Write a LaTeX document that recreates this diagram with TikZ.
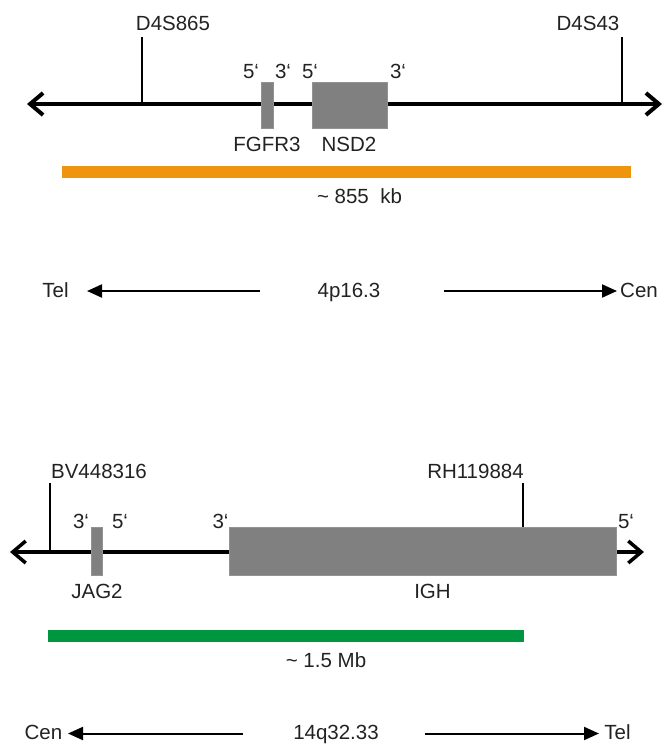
\documentclass[tikz,border=0pt]{standalone}
\usepackage{fontspec}
\setmainfont{Liberation Sans}
\usetikzlibrary{arrows.meta}
\definecolor{txt}{HTML}{222222}
\definecolor{genegray}{HTML}{808080}
\definecolor{orangebar}{HTML}{EE940F}
\definecolor{greenbar}{HTML}{009640}
\begin{document}
\begin{tikzpicture}[x=1pt,y=-1pt,
  lbl/.style={font=\fontsize{20.5}{24}\selectfont, text=txt, inner sep=0pt, anchor=base},
  gene/.style={fill=genegray, draw=genegray!85!white, line width=0.6pt, inner sep=0pt},
  axisline/.style={line width=#1, {Straight Barb[length=13pt,width=22pt]}-{Straight Barb[length=13pt,width=22pt]}},
  marker/.style={line width=#1},
  orient/.style={line width=2pt, -{Triangle[length=15pt,width=13pt]}},
  barbox/.style={inner sep=0pt, draw=none}
]
\useasboundingbox (0,0) rectangle (665,744);

% ---------------- 4p16.3 ----------------
\coordinate (a1L) at (27,104);
\coordinate (a1R) at (662,104);
\draw[axisline=4pt] (a1L) -- (a1R);

\node[lbl] (d4s865) at (173,30) {D4S865};
\coordinate (m1t) at (142,37);
\coordinate (m1b) at (142,104);
\draw[marker=1.5pt] (m1t) -- (m1b);

\node[lbl] (d4s43) at (588,30) {D4S43};
\coordinate (m2t) at (622,37);
\coordinate (m2b) at (622,104);
\draw[marker=1.5pt] (m2t) -- (m2b);

\node[gene, minimum width=12pt, minimum height=46pt] (fgfr3) at (267,105) {};
\node[gene, minimum width=75pt, minimum height=46pt] (nsd2) at (349.5,105) {};

\node[lbl] (p1) at (251,78) {5‘};
\node[lbl] (p2) at (283,78) {3‘};
\node[lbl] (p3) at (310,78) {5‘};
\node[lbl] (p4) at (398,78) {3‘};

\node[lbl] (fgfr3l) at (267,151) {FGFR3};
\node[lbl] (nsd2l) at (349,151) {NSD2};

\node[barbox, fill=orangebar, minimum width=569pt, minimum height=12pt] (obar) at (346.5,172) {};
\node[lbl] (kb) at (359.5,203) {\textasciitilde\ 855\ \ kb};

\node[lbl] (tel1) at (55.5,297) {Tel};
\coordinate (t1s) at (260,291);
\coordinate (t1e) at (87,291);
\draw[orient] (t1s) -- (t1e);
\node[lbl] (band1) at (349,297) {4p16.3};
\coordinate (c1s) at (444,291);
\coordinate (c1e) at (617,291);
\draw[orient] (c1s) -- (c1e);
\node[lbl] (cen1) at (639,297) {Cen};

% ---------------- 14q32.33 ----------------
\coordinate (a2L) at (10,552);
\coordinate (a2R) at (644,552);
\draw[axisline=3.5pt] (a2L) -- (a2R);

\node[lbl] (bv) at (99,478) {BV448316};
\coordinate (m3t) at (50,483);
\coordinate (m3b) at (50,552);
\draw[marker=2.2pt] (m3t) -- (m3b);

\node[gene, minimum width=11pt, minimum height=48pt] (jag2) at (96.5,551) {};
\node[gene, minimum width=387pt, minimum height=48pt] (igh) at (422.5,551) {};

\node[lbl] (rh) at (475.5,478) {RH119884};
\coordinate (m4t) at (523,483);
\draw[marker=2.2pt] (m4t) -- (m4t |- igh.north);

\node[lbl] (q1) at (81,528) {3‘};
\node[lbl] (q2) at (120,528) {5‘};
\node[lbl] (q3) at (220.5,528) {3‘};
\node[lbl] (q4) at (626,528) {5‘};

\node[lbl] (jag2l) at (97,598) {JAG2};
\node[lbl] (ighl) at (432.5,598) {IGH};

\node[barbox, fill=greenbar, minimum width=476pt, minimum height=12pt] (gbar) at (286,635.5) {};
\node[lbl] (mb) at (326,667) {\textasciitilde\ 1.5 Mb};

\node[lbl] (cen2) at (43.5,739.5) {Cen};
\coordinate (c2s) at (243,733.5);
\coordinate (c2e) at (68,733.5);
\draw[orient] (c2s) -- (c2e);
\node[lbl] (band2) at (336,739.5) {14q32.33};
\coordinate (t2s) at (425,733.5);
\coordinate (t2e) at (599,733.5);
\draw[orient] (t2s) -- (t2e);
\node[lbl] (tel2) at (617.5,739.5) {Tel};
\end{tikzpicture}
\end{document}
